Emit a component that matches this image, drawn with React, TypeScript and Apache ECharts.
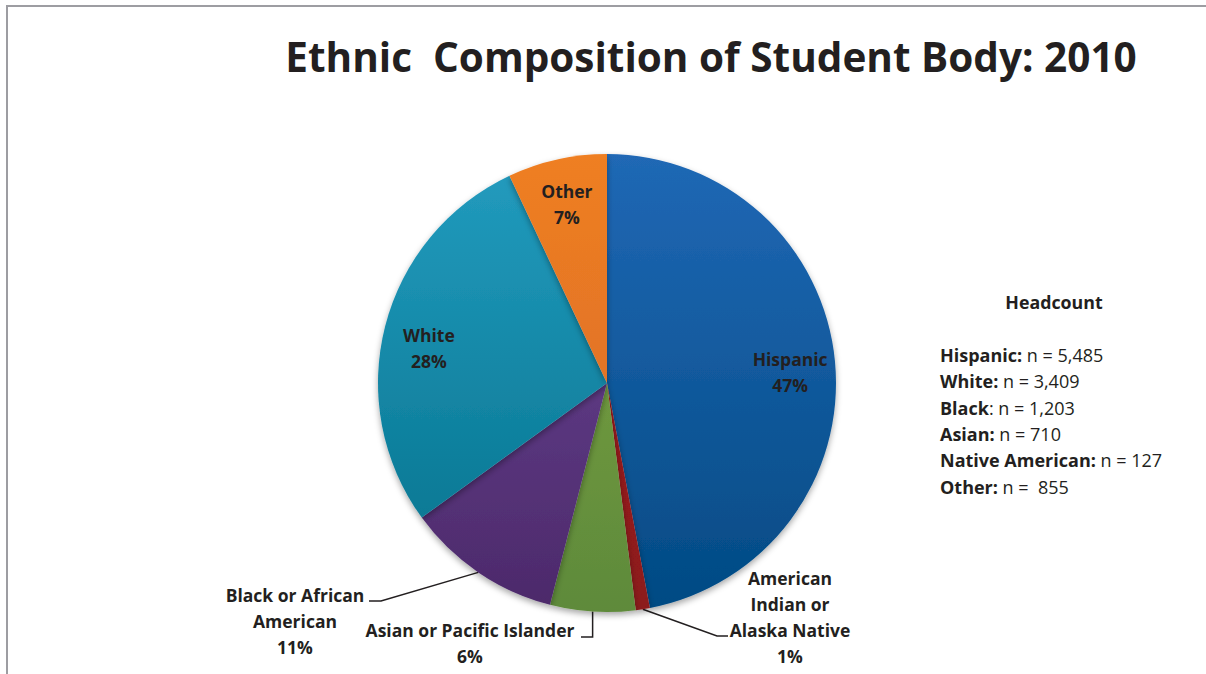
import React, { useEffect, useRef } from "react";
import * as echarts from "echarts";

const categories = [
  "Hispanic",
  "American Indian or Alaska Native",
  "Asian or Pacific Islander",
  "Black or African American",
  "White",
  "Other",
];
const labelNames = [
  "Hispanic",
  "American\nIndian or\nAlaska Native",
  "Asian or Pacific Islander",
  "Black or African\nAmerican",
  "White",
  "Other",
];
const shares = [47, 1, 6, 11, 28, 7];
const topColors = ["#2068B5", "#A8191F", "#7FA544", "#6C4899", "#239CBF", "#EF7F22"];
const bottomColors = ["#024A83", "#8C1A1E", "#5E8A3A", "#4C296A", "#04718B", "#D6682B"];
const insideIdx = [0, 4, 5];
const insideOffsetY = [6, 0, 0, 0, 11, 0];

const headNames = ["Hispanic:", "White:", "Black", "Asian:", "Native American:", "Other:"];
const headRest = [" n = 5,485", " n = 3,409", ": n = 1,203", " n = 710", " n = 127", " n =  855"];

const FONT = "Open Sans";
const CX = 607;
const CY = 383;
const R = 229;
const INK = "#231F20";
const LFS = 17.5;
const HFS = 18;

export default function App() {
  const ref = useRef<HTMLDivElement>(null);
  useEffect(() => {
    document.body.style.margin = "0";
    const chart = echarts.init(ref.current!, null, { renderer: "svg" });
    const grad = (i: number) => ({
      type: "linear",
      x: 0,
      y: CY - R,
      x2: 0,
      y2: CY + R,
      global: true,
      colorStops: [
        { offset: 0, color: topColors[i] },
        { offset: 1, color: bottomColors[i] },
      ],
    });
    const total = shares.reduce((a, b) => a + b, 0);
    const edgePoint = (i: number) => {
      let before = 0;
      for (let k = 0; k < i; k++) before += shares[k];
      const a = ((before + shares[i] / 2) / total) * Math.PI * 2;
      return [CX + R * Math.sin(a), CY - R * Math.cos(a)];
    };
    const outsideLayout: Record<number, any> = {
      1: { x: 790, y: 617, pts: (s: number[]) => [s, [717, 636], [728, 636]] },
      2: { x: 470, y: 643, pts: (s: number[]) => [s, [s[0], 637], [581, 637]] },
      3: { x: 295, y: 621, pts: (s: number[]) => [s, [381, 601], [369, 601]] },
    };
    const headText = headNames.map((n, i) => `{b|${n}}{r|${headRest[i]}}`).join("\n");

    chart.setOption({
      animation: false,
      backgroundColor: "#ffffff",
      title: {
        text: "Ethnic  Composition of Student Body: 2010",
        left: 706,
        textAlign: "center",
        top: 31,
        textStyle: { fontFamily: FONT, fontSize: 40.5, fontWeight: "bold", color: INK },
      },
      graphic: [
        { type: "line", shape: { x1: 7, y1: 6, x2: 7, y2: 674 }, style: { stroke: "#9D9DA2", lineWidth: 2 } },
        { type: "line", shape: { x1: 6, y1: 6, x2: 1206, y2: 6 }, style: { stroke: "#9D9DA2", lineWidth: 2 } },
        {
          type: "text",
          x: 1054,
          y: 302,
          style: {
            text: "Headcount",
            align: "center",
            verticalAlign: "middle",
            fontFamily: FONT,
            fontSize: 17.8,
            fontWeight: "bold",
            fill: INK,
          },
        },
        {
          type: "text",
          x: 940,
          y: 342,
          style: {
            text: headText,
            align: "left",
            verticalAlign: "top",
            fontFamily: FONT,
            fontSize: HFS,
            lineHeight: 26.3,
            fill: INK,
            rich: {
              b: { fontFamily: FONT, fontSize: HFS, fontWeight: "bold", fill: INK, lineHeight: 26.3 },
              r: { fontFamily: FONT, fontSize: HFS, fill: INK, lineHeight: 26.3 },
            },
          },
        },
      ],
      series: [
        {
          type: "pie",
          center: [CX, CY],
          radius: [0, R],
          startAngle: 90,
          clockwise: true,
          avoidLabelOverlap: false,
          itemStyle: {
            shadowBlur: 6,
            shadowOffsetY: 3,
            shadowColor: "rgba(0,0,0,0.35)",
          },
          label: {
            show: true,
            position: "outside",
            fontFamily: FONT,
            fontSize: LFS,
            fontWeight: "bold",
            color: INK,
            lineHeight: 26,
            align: "center",
          },
          labelLine: { show: true, lineStyle: { color: INK, width: 1.5 } },
          labelLayout: (p: any) => {
            const o = outsideLayout[p.dataIndex];
            if (!o) return {};
            return {
              x: o.x,
              y: o.y,
              align: "center",
              verticalAlign: "middle",
              labelLinePoints: o.pts(edgePoint(p.dataIndex)),
            };
          },
          data: categories.map((c, i) => ({
            name: c,
            value: shares[i],
            itemStyle: { color: grad(i) },
            label: insideIdx.includes(i)
              ? { show: false }
              : { show: true, formatter: `${labelNames[i]}\n${shares[i]}%` },
            labelLine: { show: !insideIdx.includes(i) },
          })),
        },
        {
          type: "pie",
          center: [CX, CY],
          radius: [R * 0.6, R * 0.98],
          startAngle: 90,
          clockwise: true,
          silent: true,
          avoidLabelOverlap: false,
          itemStyle: { color: "rgba(0,0,0,0)" },
          label: {
            show: true,
            position: "inside",
            fontFamily: FONT,
            fontSize: LFS,
            fontWeight: "bold",
            color: INK,
            lineHeight: 26,
            align: "center",
          },
          labelLine: { show: false },
          data: categories.map((c, i) => ({
            name: c,
            value: shares[i],
            label: insideIdx.includes(i)
              ? {
                  show: true,
                  formatter: `${labelNames[i]}\n${shares[i]}%`,
                  offset: [0, insideOffsetY[i]],
                }
              : { show: false },
          })),
        },
      ],
    });
    return () => chart.dispose();
  }, []);
  return <div ref={ref} style={{ width: 1206, height: 674 }} />;
}
